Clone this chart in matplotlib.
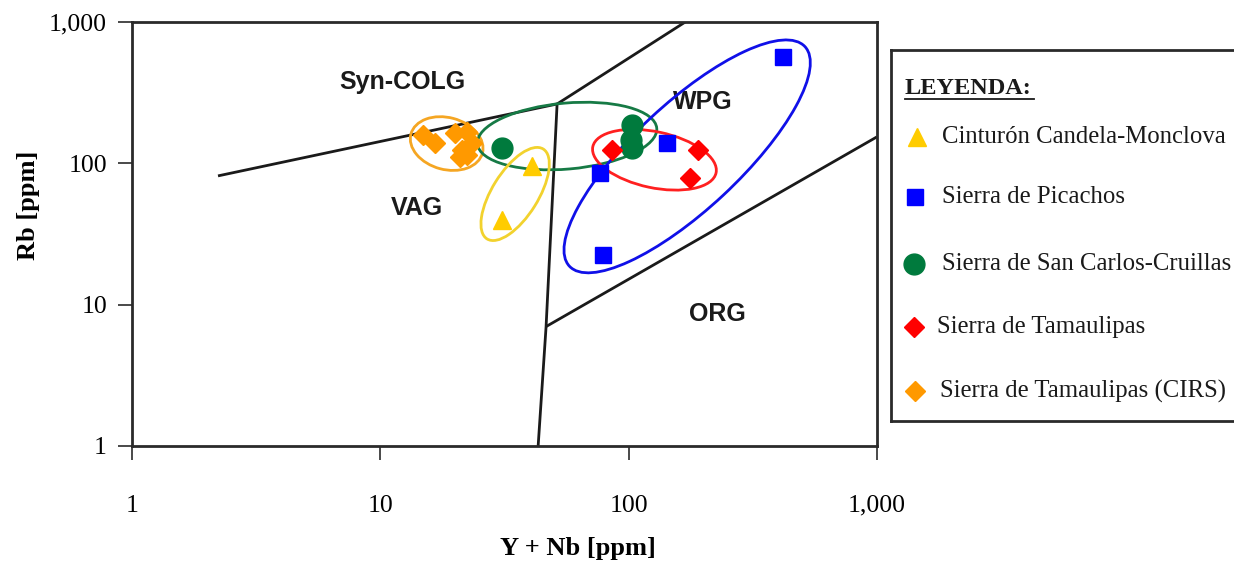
import matplotlib
matplotlib.use("Agg")
import matplotlib.pyplot as plt
from matplotlib.patches import Ellipse
from matplotlib import transforms

# --- Sample data: Y+Nb (ppm) vs Rb (ppm) ---
candela_x = [40.8, 30.9]
candela_y = [96, 40]

picachos_x = [418, 143, 77, 79]
picachos_y = [566, 139, 85, 22.5]

sancarlos_x = [30.9, 103, 102, 103]
sancarlos_y = [128, 187, 146, 129]

tamaulipas_x = [86, 190, 177]
tamaulipas_y = [124, 124, 79]

cirs_x = [14.9, 16.6, 20.0, 22.4, 23.4, 21.3, 20.9, 22.4]
cirs_y = [159, 139, 164, 167, 139, 124, 111, 115]

# Pearce et al. (1984) discrimination boundaries
colg_vag_x = [2.22, 51.5]
colg_vag_y = [81.5, 263]
colg_wpg_x = [51.5, 169]
colg_wpg_y = [263, 1000]
vag_wpg_x = [51.5, 46.5, 43.2]
vag_wpg_y = [263, 7.0, 1.0]
org_wpg_x = [46.5, 1000]
org_wpg_y = [7.0, 154]

field_names = ["Syn-COLG", "VAG", "WPG", "ORG"]
field_x = [12.3, 14.1, 199, 227]
field_y = [377, 48.3, 272, 8.6]

tick_vals = [1, 10, 100, 1000]
tick_labels = ["1", "10", "100", "1,000"]

legend_title = "LEYENDA:"
series_labels = ["Cinturón Candela-Monclova", "Sierra de Picachos",
                 "Sierra de San Carlos-Cruillas", "Sierra de Tamaulipas",
                 "Sierra de Tamaulipas (CIRS)"]
series_colors = ["#FFCC00", "#0000FF", "#007A3D", "#FF0000", "#FF9900"]
series_markers = ["^", "s", "o", "D", "D"]
series_sizes = [13, 11, 15, 10, 10]

serif = "Liberation Serif"
sans = "Liberation Sans"

W, H = 1234, 568
fig = plt.figure(figsize=(W / 100, H / 100), dpi=100)
fig.patch.set_facecolor("white")

ax = fig.add_axes([132 / W, 1 - 446 / H, (877 - 132) / W, (446 - 22) / H])
ax.set_xscale("log")
ax.set_yscale("log")
ax.set_xlim(1, 1000)
ax.set_ylim(1, 1000)
for s in ax.spines.values():
    s.set_color("#2a2a2a")
    s.set_linewidth(2)

ax.set_xticks(tick_vals)
ax.set_xticklabels(tick_labels, fontfamily=serif, fontsize=18.5)
ax.set_yticks(tick_vals)
ax.set_yticklabels(tick_labels, fontfamily=serif, fontsize=18.5)
ax.minorticks_off()
ax.tick_params(axis="x", direction="out", length=10, width=1.2, pad=25, color="#2a2a2a")
ax.tick_params(axis="y", direction="out", length=10, width=1.2, pad=8, color="#2a2a2a")

# Boundary lines
line_kw = dict(color="#1a1a1a", lw=2, solid_capstyle="butt", zorder=2)
ax.plot(colg_vag_x, colg_vag_y, **line_kw)
ax.plot(colg_wpg_x, colg_wpg_y, **line_kw)
ax.plot(vag_wpg_x, vag_wpg_y, **line_kw)
ax.plot(org_wpg_x, org_wpg_y, **line_kw)

for name, fx, fy in zip(field_names, field_x, field_y):
    ax.text(fx, fy, name, fontfamily=sans, fontweight="bold", fontsize=18,
            color="#1a1a1a", ha="center", va="center")

# Group outlines, sized in pixels around a data-space centre
def outline(cx, cy, w_px, h_px, angle, color):
    trans = fig.dpi_scale_trans + transforms.ScaledTranslation(cx, cy, ax.transData)
    e = Ellipse((0, 0), w_px / 100, h_px / 100, angle=angle, transform=trans,
                fill=False, edgecolor=color, lw=2, zorder=3)
    ax.add_artist(e)

outline(18.5, 138, 74, 52, -15, "#F5A623")
outline(56.5, 156, 180, 66, 5, "#167A45")
outline(34.9, 60.7, 106, 46, 58, "#F2D22E")
outline(127, 106, 126, 56, -12, "#FF2020")
outline(172, 112, 322, 106, 43, "#1010E8")

groups = [(candela_x, candela_y), (picachos_x, picachos_y),
          (sancarlos_x, sancarlos_y), (tamaulipas_x, tamaulipas_y),
          (cirs_x, cirs_y)]
for (gx, gy), c, m, ms in zip(groups, series_colors, series_markers, series_sizes):
    ax.plot(gx, gy, linestyle="none", marker=m, markersize=ms,
            markerfacecolor=c, markeredgecolor=c, zorder=4)

fig.text(578 / W, 1 - 548 / H, "Y + Nb [ppm]", fontfamily=serif, fontweight="bold",
         fontsize=19, ha="center", va="center")
fig.text(28 / W, 1 - 205 / H, "Rb [ppm]", fontfamily=serif, fontweight="bold",
         fontsize=19, ha="center", va="center", rotation=90)

# Legend panel
lg = fig.add_axes([891 / W, 1 - 421 / H, (1240 - 891) / W, (421 - 50) / H])
lg.set_xlim(891, 1240)
lg.set_ylim(421, 50)
lg.set_xticks([])
lg.set_yticks([])
for s in lg.spines.values():
    s.set_color("#2a2a2a")
    s.set_linewidth(2)

lg.text(905, 89, legend_title, fontfamily=serif, fontweight="bold", fontsize=17.5,
        ha="left", va="center", color="#1a1a1a")
lg.plot([905, 1034], [99, 99], color="#1a1a1a", lw=1.3)

entry_y = [137, 197, 264, 327, 391]
marker_x = [917, 915, 914, 914, 915]
text_x = [942, 942, 942, 937, 940]
for lbl, c, m, ms, ey, mx, tx in zip(series_labels, series_colors, series_markers,
                                      series_sizes, entry_y, marker_x, text_x):
    lg.plot([mx], [ey], linestyle="none", marker=m, markersize=ms,
            markerfacecolor=c, markeredgecolor=c)
    lg.text(tx, ey, lbl, fontfamily=serif, fontsize=17.8, ha="left", va="center",
            color="#1a1a1a")

fig.savefig("out.png", dpi=100, facecolor="white")
